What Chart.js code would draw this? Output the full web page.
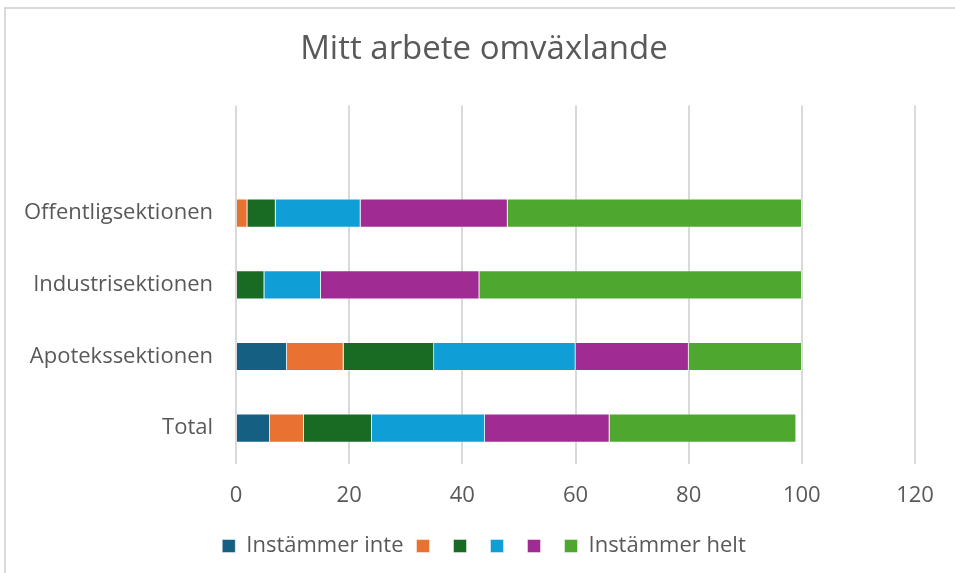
<!DOCTYPE html>
<html>
<head>
<meta charset="utf-8">
<script src="https://cdn.jsdelivr.net/npm/chart.js@4"></script>
<style>
html,body{margin:0;padding:0;background:#fff;}
#wrap{width:955px;height:573px;position:relative;}
</style>
</head>
<body>
<div id="wrap"><canvas id="c" width="955" height="573"></canvas></div>
<script>
const title = 'Mitt arbete omväxlande';
const categories = ['', 'Offentligsektionen', 'Industrisektionen', 'Apotekssektionen', 'Total'];
const seriesNames = ['Instämmer inte', '', '', '', '', 'Instämmer helt'];
const seriesColors = ['#156082', '#E97132', '#196B24', '#0F9ED5', '#A02B93', '#4EA72E'];
const s1 = [null, 0, 0, 9, 6];
const s2 = [null, 2, 0, 10, 6];
const s3 = [null, 5, 5, 16, 12];
const s4 = [null, 15, 10, 25, 20];
const s5 = [null, 26, 28, 20, 22];
const s6 = [null, 52, 57, 20, 33];
const xTicks = [0, 20, 40, 60, 80, 100, 120];
const seriesValues = [s1, s2, s3, s4, s5, s6];

const FONT = 'Open Sans';
const TXT = '#595959';

const frame = {
  id: 'frame',
  beforeDraw(chart) {
    const ctx = chart.ctx;
    ctx.save();
    ctx.fillStyle = '#fff';
    ctx.fillRect(0, 0, chart.width, chart.height);
    ctx.strokeStyle = '#d9d9d9';
    ctx.lineWidth = 2;
    ctx.beginPath();
    ctx.moveTo(5, chart.height + 2);
    ctx.lineTo(5, 8);
    ctx.lineTo(chart.width + 2, 8);
    ctx.stroke();
    ctx.restore();
  }
};

new Chart(document.getElementById('c'), {
  type: 'bar',
  data: {
    labels: categories,
    datasets: seriesValues.map((v, i) => ({
      label: seriesNames[i],
      data: v,
      backgroundColor: seriesColors[i],
      borderColor: 'rgba(255,255,255,0.6)',
      borderWidth: 0.75,
      categoryPercentage: 1,
      barPercentage: 0.4
    }))
  },
  plugins: [frame],
  options: {
    indexAxis: 'y',
    responsive: false,
    animation: false,
    layout: { padding: { left: 13, right: 0, top: 0, bottom: 6 } },
    plugins: {
      title: {
        display: true,
        text: title,
        color: TXT,
        font: { family: FONT, size: 33, weight: 'normal' },
        padding: { top: 30, bottom: 36 }
      },
      legend: {
        position: 'bottom',
        labels: {
          color: TXT,
          font: { family: FONT, size: 22 },
          boxWidth: 13,
          boxHeight: 13,
          padding: 13
        }
      },
      tooltip: { enabled: false }
    },
    scales: {
      x: {
        stacked: true,
        min: 0,
        max: 120,
        afterBuildTicks(scale) { scale.ticks = xTicks.map(v => ({ value: v })); },
        grid: { color: '#d9d9d9', lineWidth: 2, drawTicks: false },
        border: { display: false },
        ticks: { color: TXT, font: { family: FONT, size: 22 }, padding: 19 },
        afterFit(scale) { scale.height = 58; }
      },
      y: {
        stacked: true,
        grid: { display: false },
        border: { display: false },
        ticks: { color: TXT, font: { family: FONT, size: 22 }, padding: 15 },
        afterFit(scale) { scale.width = 223; }
      },
      y2: {
        type: 'linear',
        position: 'right',
        display: true,
        grid: { display: false },
        border: { display: false },
        ticks: { display: false },
        afterFit(scale) { scale.width = 40; }
      }
    }
  }
});
</script>
</body>
</html>
